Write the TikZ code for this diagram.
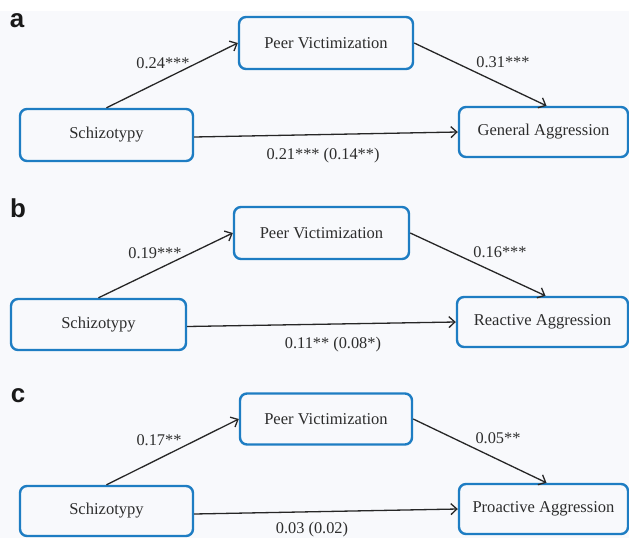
\documentclass[tikz,border=0pt]{standalone}
\usepackage{fontspec}
\setmainfont{Liberation Serif}
\newfontfamily\labfont{Liberation Sans}
\usetikzlibrary{arrows.meta}
\definecolor{boxblue}{RGB}{30,125,195}
\definecolor{bgcol}{RGB}{248,249,252}
\definecolor{txtcol}{RGB}{45,45,45}
\begin{document}
\begin{tikzpicture}[x=1bp,y=-1bp,
  box/.style={draw=boxblue, line width=2.4bp, rounded corners=7bp, inner sep=0pt,
              text=txtcol, font=\fontsize{16.6}{19}\selectfont},
  lbl/.style={text=txtcol, inner sep=0pt, font=\fontsize{16.4}{19}\selectfont},
  panel/.style={inner sep=0pt, text=black!90, font=\labfont\bfseries\fontsize{26}{30}\selectfont},
  arr/.style={draw=black!85, line width=1.3bp, -{Straight Barb[length=6bp,width=11bp]}}]
\fill[bgcol] (0,0) rectangle (629,538);
\fill[white] (0,0) rectangle (629,11);
\useasboundingbox (0,0) rectangle (629,538);

% panel a
\node[panel] (la) at (17,21) {a};
\node[box, minimum width=173bp, minimum height=52bp] (Sa) at (106.5,135) {Schizotypy};
\node[box, minimum width=174bp, minimum height=52bp] (Pa) at (326,43) {Peer Victimization};
\node[box, minimum width=169bp, minimum height=50bp] (Ga) at (543.5,132) {General Aggression};
\draw[arr] (Sa.north) -- (Pa.west);
\draw[arr] (Pa.east) -- ([xshift=3bp]Ga.north);
\draw[arr] ([yshift=-2bp]Sa.east) -- (Ga.west);
\node[lbl] (a1) at (163,63) {0.24***};
\node[lbl] (a2) at (503,62) {0.31***};
\node[lbl] (a3) at (323,156) {0.21*** (0.14**)};

% panel b
\node[panel] (lb) at (18,208) {b};
\node[box, minimum width=175bp, minimum height=51bp] (Sb) at (98.5,324.5) {Schizotypy};
\node[box, minimum width=175bp, minimum height=52bp] (Pb) at (321.5,233) {Peer Victimization};
\node[box, minimum width=171bp, minimum height=50bp] (Rb) at (542.5,322) {Reactive Aggression};
\draw[arr] (Sb.north) -- (Pb.west);
\draw[arr] (Pb.east) -- ([xshift=3bp]Rb.north);
\draw[arr] ([yshift=-2bp]Sb.east) -- (Rb.west);
\node[lbl] (b1) at (155,253) {0.19***};
\node[lbl] (b2) at (500,252) {0.16***};
\node[lbl] (b3) at (333,345) {0.11** (0.08*)};

% panel c
\node[panel] (lc) at (18,396) {c};
\node[box, minimum width=173bp, minimum height=50bp] (Sc) at (106.5,511) {Schizotypy};
\node[box, minimum width=172bp, minimum height=51bp] (Pc) at (326,419) {Peer Victimization};
\node[box, minimum width=169bp, minimum height=50bp] (Pr) at (543.5,509) {Proactive Aggression};
\draw[arr] (Sc.north) -- (Pc.west);
\draw[arr] (Pc.east) -- ([xshift=3bp]Pr.north);
\draw[arr] ([yshift=-3bp]Sc.east) -- (Pr.west);
\node[lbl] (c1) at (159,440) {0.17**};
\node[lbl] (c2) at (498,438) {0.05**};
\node[lbl] (c3) at (312,530) {0.03 (0.02)};
\end{tikzpicture}
\end{document}
